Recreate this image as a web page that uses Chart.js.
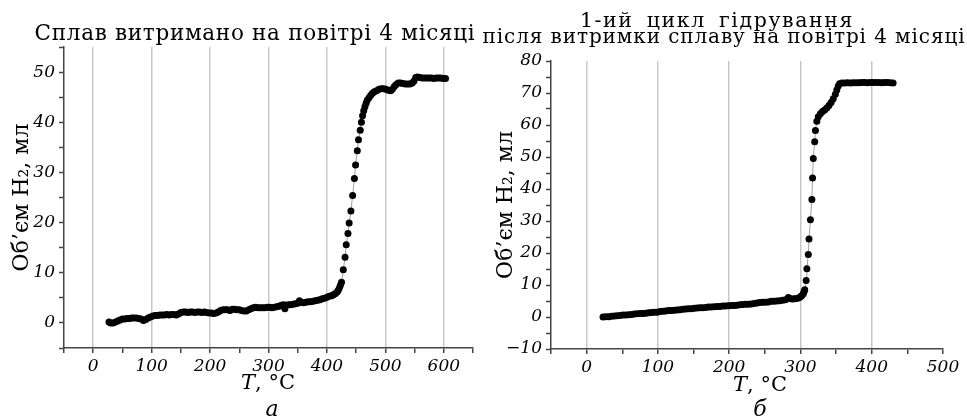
<!DOCTYPE html>
<html>
<head>
<meta charset="utf-8">
<script src="https://cdn.jsdelivr.net/npm/chart.js@4.4.0/dist/chart.umd.min.js"></script>
<style>
body { margin: 0; background: #fff; }
#wrap { position: relative; width: 967px; height: 419px; overflow: hidden; font-family: "DejaVu Serif", serif; color: #000; }
canvas { position: absolute; top: 0; }
.lbl { position: absolute; white-space: nowrap; line-height: 1; transform: translateX(-50%); }
</style>
</head>
<body>
<div id="wrap">
  <canvas id="chartA" width="480" height="419" style="left:0"></canvas>
  <canvas id="chartB" width="487" height="419" style="left:480px"></canvas>
  <div class="lbl" style="left:255px; top:22px; font-size:21.5px; letter-spacing:0.7px">Сплав витримано на повітрі 4 місяці</div>
  <div class="lbl" style="left:717px; top:10px; font-size:20.5px; letter-spacing:1.6px; word-spacing:5px">1-ий цикл гідрування</div>
  <div class="lbl" style="left:724px; top:26px; font-size:20px; letter-spacing:0.9px">після витримки сплаву на повітрі 4 місяці</div>
  <div class="lbl" style="left:268px; top:372px; font-size:21px"><i>T</i>, °C</div>
  <div class="lbl" style="left:760px; top:374px; font-size:21px"><i>T</i>, °C</div>
  <div class="lbl" style="left:272px; top:398px; font-size:22px"><i>а</i></div>
  <div class="lbl" style="left:760px; top:398px; font-size:22px"><i>б</i></div>
</div>
<script>
// (а) сплав витримано на повітрі 4 місяці
const tempA = [27,30,34,38,42,46,50,54,58,62,66,70,74,78,82,86,90,94,98,102,
  106,110,114,118,122,126,130,134,138,142,146,150,154,158,162,166,170,174,178,182,
  186,190,194,198,202,206,210,214,218,222,226,230,234,238,242,246,250,254,258,262,
  266,270,274,278,282,286,290,294,298,302,306,310,314,318,322,326,328,330,334,338,
  342,346,350,353,356,360,364,368,372,376,380,384,388,392,396,400,404,408,411,414,
  417,419,421,423,425,428,431,433,436,438,441,444,447,449,452,454,457,459,461,463,
  465,467,469,472,475,478,481,485,489,493,497,501,505,509,512,515,518,522,526,530,
  534,538,542,546,549,552,555,559,563,567,571,575,579,583,587,591,595,599,603];
const volA = [0.2,0.0,0.0,0.2,0.4,0.6,0.8,0.8,0.9,0.9,1.0,1.0,1.0,0.9,0.8,0.5,0.7,1.0,1.2,1.4,
  1.5,1.5,1.6,1.6,1.6,1.7,1.6,1.7,1.7,1.6,1.8,2.1,2.2,2.2,2.1,2.2,2.2,2.1,2.2,2.2,
  2.1,2.2,2.1,2.0,2.0,1.9,2.0,2.2,2.5,2.6,2.6,2.6,2.5,2.7,2.7,2.6,2.6,2.5,2.4,2.4,
  2.6,2.8,3.0,3.1,3.0,3.0,3.0,3.0,3.1,3.1,3.0,3.1,3.2,3.3,3.5,3.6,2.8,3.5,3.6,3.6,
  3.7,3.8,3.9,4.4,4.1,4.0,4.1,4.2,4.2,4.3,4.4,4.5,4.6,4.8,4.9,5.1,5.3,5.4,5.6,5.8,
  6.1,6.4,6.9,7.5,8.1,10.6,13.1,15.6,17.8,19.9,22.3,25.4,28.8,31.5,34.3,36.5,38.4,40.0,41.3,42.3,
  43.1,43.8,44.4,44.9,45.4,45.8,46.1,46.3,46.6,46.7,46.7,46.6,46.4,46.3,46.6,47.1,47.5,47.8,47.8,47.7,
  47.6,47.6,47.6,47.8,48.2,48.9,49.0,48.9,48.8,48.8,48.8,48.8,48.8,48.7,48.8,48.8,48.8,48.7,48.7];

// (б) 1-ий цикл гідрування
const tempB = [23,27,31,35,39,43,47,51,55,59,63,67,71,75,79,83,87,91,95,99,
  103,107,111,115,119,123,127,131,135,139,143,147,151,155,159,163,167,171,175,179,
  183,187,191,195,199,203,207,211,215,219,223,227,231,235,239,243,247,251,255,259,
  263,267,271,275,279,283,286,289,292,295,298,300,302,304,305,306,308,309,311,312,
  314,316,317,318,320,321,323,325,328,331,334,337,340,343,346,349,351,353,355,358,
  362,366,370,374,378,382,386,390,394,398,402,406,410,414,418,422,426,430];
const volB = [0.0,0.1,0.1,0.2,0.3,0.4,0.5,0.6,0.6,0.7,0.8,0.9,1.0,1.1,1.1,1.2,1.3,1.4,1.5,1.5,
  1.7,1.8,1.9,2.0,2.0,2.1,2.2,2.3,2.4,2.5,2.6,2.6,2.7,2.8,2.9,2.9,3.0,3.1,3.1,3.2,
  3.3,3.3,3.4,3.4,3.5,3.6,3.6,3.7,3.8,3.9,4.0,4.0,4.1,4.2,4.4,4.5,4.6,4.6,4.7,4.9,
  4.9,5.0,5.1,5.2,5.4,6.1,5.7,5.6,5.7,5.8,6.0,6.3,6.7,7.3,7.9,8.5,11.4,15.1,19.5,24.4,
  30.4,36.7,43.4,49.5,54.8,58.3,61.2,62.6,63.5,64.2,64.7,65.3,66.1,67.0,68.2,69.6,70.9,72.2,72.9,73.1,
  73.1,73.2,73.1,73.2,73.2,73.2,73.3,73.3,73.2,73.3,73.3,73.3,73.3,73.2,73.3,73.3,73.2,73.1];

// tick labels and grid lines
const xLabelsA = [0,100,200,300,400,500,600];
const yLabelsA = [0,10,20,30,40,50];
const gridA = [0,100,200,300,400,500,600];
const xLabelsB = [0,100,200,300,400,500];
const yLabelsB = [-10,0,10,20,30,40,50,60,70,80];
const gridB = [0,100,200,300,400];

const yTitle = 'Об’єм H₂, мл';

function pts(xs, ys) {
  return xs.map((x, i) => ({ x: x, y: ys[i] }));
}

function fmt(v) {
  return v < 0 ? '\u2212' + Math.abs(v) : String(v);
}

const tickFont = { family: 'DejaVu Serif', style: 'italic', size: 17 };

function makeChart(id, xs, ys, c) {
  return new Chart(document.getElementById(id), {
    type: 'scatter',
    data: {
      datasets: [{
        data: pts(xs, ys),
        showLine: true,
        borderColor: '#a0a0a0',
        borderWidth: 1,
        pointRadius: 3.5,
        pointHoverRadius: 3.5,
        pointBackgroundColor: '#000',
        pointBorderWidth: 0
      }]
    },
    options: {
      responsive: false,
      animation: false,
      devicePixelRatio: 1,
      layout: { padding: c.pad },
      plugins: { legend: { display: false }, tooltip: { enabled: false } },
      scales: {
        x: {
          type: 'linear', min: c.xMin, max: c.xMax,
          afterFit: s => { s.height = c.xH; },
          border: { color: '#444', width: 1.5 },
          grid: {
            color: g => (g.tick && c.grid.includes(g.tick.value)) ? '#c8c8c8' : 'rgba(0,0,0,0)',
            lineWidth: 1.5, tickColor: '#444', tickWidth: 1.5, tickLength: 5
          },
          ticks: {
            stepSize: 50, autoSkip: false, maxRotation: 0, padding: 3, color: '#000', font: tickFont,
            callback: v => c.xLabels.includes(v) ? fmt(v) : ''
          }
        },
        y: {
          type: 'linear', min: c.yMin, max: c.yMax,
          afterFit: s => { s.width = c.yW; },
          border: { color: '#444', width: 1.5 },
          grid: { drawOnChartArea: false, tickColor: '#444', tickWidth: 1.5, tickLength: 5 },
          ticks: {
            stepSize: 5, autoSkip: false, padding: 4, color: '#000', font: tickFont,
            callback: v => c.yLabels.includes(v) ? fmt(v) : ''
          },
          title: {
            display: true, text: yTitle, color: '#000',
            font: { family: 'DejaVu Serif', size: 22 },
            padding: { top: c.titlePad, bottom: 0 }
          }
        }
      }
    }
  });
}

makeChart('chartA', tempA, volA, {
  xMin: -50, xMax: 650, yMin: -5, yMax: 55,
  xLabels: xLabelsA, yLabels: yLabelsA, grid: gridA,
  pad: { left: 0, top: 47, right: 7, bottom: 28 }, xH: 43, yW: 64, titlePad: 9
});

makeChart('chartB', tempB, volB, {
  xMin: -50, xMax: 500, yMin: -10, yMax: 80,
  xLabels: xLabelsB, yLabels: yLabelsB, grid: gridB,
  pad: { left: 0, top: 61, right: 24, bottom: 28 }, xH: 42, yW: 71, titlePad: 13
});
</script>
</body>
</html>
